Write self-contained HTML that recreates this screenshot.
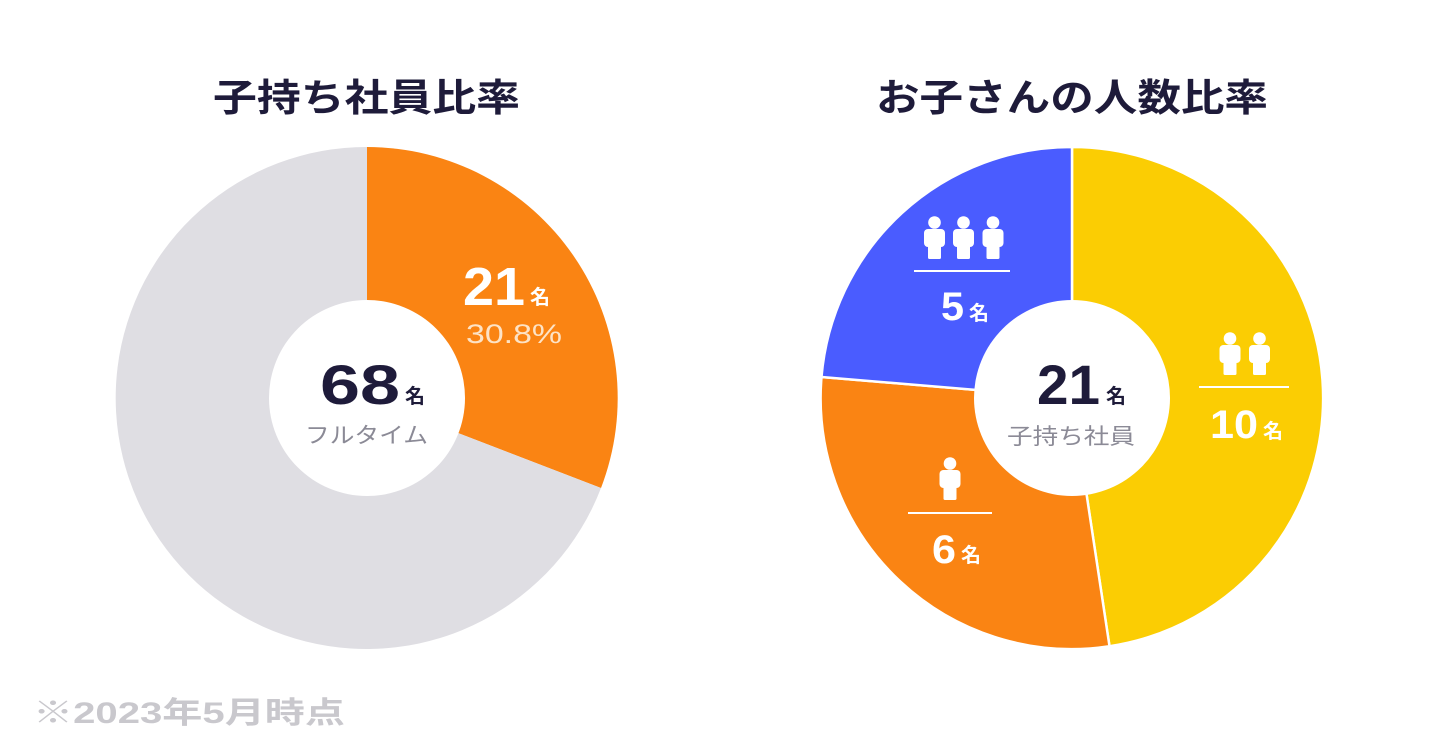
<!DOCTYPE html>
<html><head><meta charset="utf-8"><style>
html,body{margin:0;padding:0;background:#fff;}
svg{display:block;}
text{font-family:"Liberation Sans","Noto Sans CJK JP",sans-serif;}
</style></head><body>
<svg width="1440" height="756" viewBox="0 0 1440 756" xmlns="http://www.w3.org/2000/svg">
<defs>
<g id="p"><circle cx="0" cy="6.5" r="6.3" fill="#fff"/><rect x="-10.5" y="13" width="21" height="18" rx="4" fill="#fff"/><rect x="-6.5" y="22" width="13" height="21" rx="1.5" fill="#fff"/></g>
</defs>
<text x="213" y="111" textLength="307" lengthAdjust="spacingAndGlyphs" font-size="38" font-weight="bold" fill="#1e1b3a">子持ち社員比率</text>
<text x="876" y="111" textLength="392" lengthAdjust="spacingAndGlyphs" font-size="38" font-weight="bold" fill="#1e1b3a">お子さんの人数比率</text>

<!-- left donut -->
<path d="M367,398 L367,147 A251,251 0 0 1 601,488 Z" fill="#fa8413"/>
<path d="M367,398 L601,488 A251,251 0 1 1 367,147 Z" fill="#dfdee3"/>
<circle cx="367" cy="398" r="98" fill="#fff"/>
<text x="463" y="305" textLength="62" lengthAdjust="spacingAndGlyphs" font-size="54" font-weight="bold" fill="#fff">21</text>
<text x="530" y="304" font-size="20" font-weight="bold" fill="#fff">名</text>
<text x="466" y="343" textLength="96" lengthAdjust="spacingAndGlyphs" font-size="27" fill="#fde3c6">30.8%</text>
<text x="320" y="404" textLength="80" lengthAdjust="spacingAndGlyphs" font-size="56" font-weight="bold" fill="#1e1b3a">68</text>
<text x="405" y="403" font-size="20" font-weight="bold" fill="#1e1b3a">名</text>
<text x="305" y="443" textLength="123" lengthAdjust="spacingAndGlyphs" font-size="22" fill="#8b8a96">フルタイム</text>

<!-- right donut -->
<path d="M1072,398 L1072,147 A251,251 0 0 1 1109.5,646.2 Z" fill="#fbcd03" stroke="#fff" stroke-width="2.5" stroke-linejoin="round"/>
<path d="M1072,398 L1109.5,646.2 A251,251 0 0 1 821.5,377 Z" fill="#fa8413" stroke="#fff" stroke-width="2.5" stroke-linejoin="round"/>
<path d="M1072,398 L821.5,377 A251,251 0 0 1 1072,147 Z" fill="#4a5cff" stroke="#fff" stroke-width="2.5" stroke-linejoin="round"/>
<circle cx="1072" cy="398" r="98" fill="#fff"/>
<text x="1037" y="404" textLength="63" lengthAdjust="spacingAndGlyphs" font-size="56" font-weight="bold" fill="#1e1b3a">21</text>
<text x="1106" y="403" font-size="20" font-weight="bold" fill="#1e1b3a">名</text>
<text x="1007" y="444" textLength="128" lengthAdjust="spacingAndGlyphs" font-size="22" fill="#8b8a96">子持ち社員</text>

<!-- blue label -->
<use href="#p" x="934.5" y="216"/><use href="#p" x="963.5" y="216"/><use href="#p" x="993" y="216"/>
<rect x="914" y="270" width="96" height="2" fill="#fff"/>
<text x="941" y="320" textLength="23" lengthAdjust="spacingAndGlyphs" font-size="40" font-weight="bold" fill="#fff">5</text>
<text x="969" y="320" font-size="20" font-weight="bold" fill="#fff">名</text>
<!-- yellow label -->
<use href="#p" x="1230" y="332"/><use href="#p" x="1259.5" y="332"/>
<rect x="1199" y="386" width="90" height="2" fill="#fff"/>
<text x="1210" y="438" textLength="48" lengthAdjust="spacingAndGlyphs" font-size="40" font-weight="bold" fill="#fff">10</text>
<text x="1263" y="438" font-size="20" font-weight="bold" fill="#fff">名</text>
<!-- orange label -->
<use href="#p" x="950" y="457"/>
<rect x="908" y="512" width="84" height="2" fill="#fff"/>
<text x="932" y="563" textLength="24" lengthAdjust="spacingAndGlyphs" font-size="40" font-weight="bold" fill="#fff">6</text>
<text x="961" y="562" font-size="20" font-weight="bold" fill="#fff">名</text>

<text x="33" y="723" textLength="312" lengthAdjust="spacingAndGlyphs" font-size="30" font-weight="bold" fill="#c9c8cd">※2023年5月時点</text>
</svg>
</body></html>
